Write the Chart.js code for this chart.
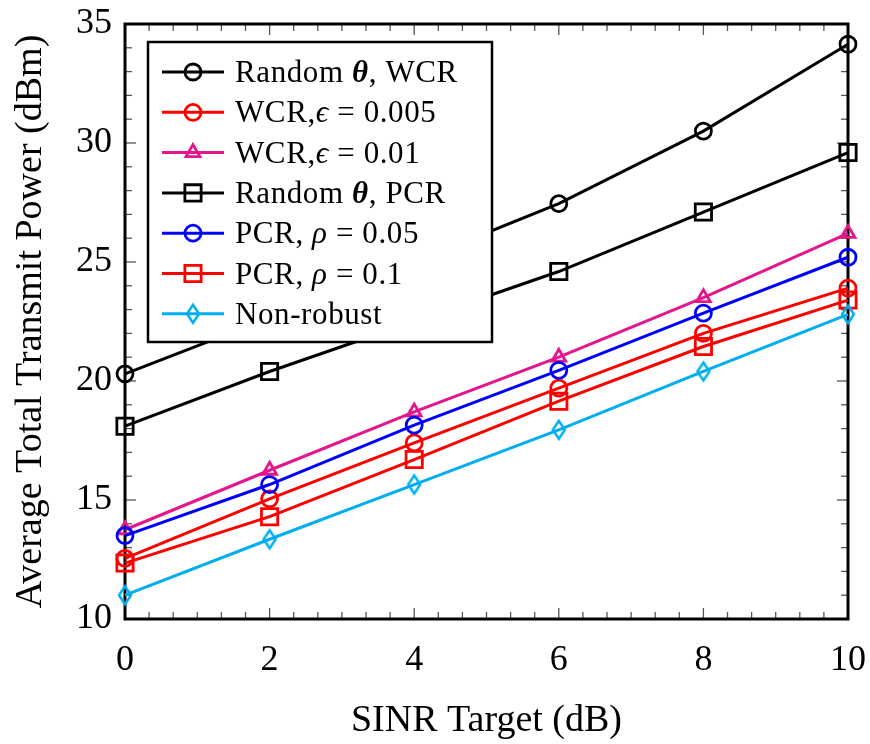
<!DOCTYPE html>
<html>
<head>
<meta charset="utf-8">
<script src="https://cdn.jsdelivr.net/npm/chart.js@4.4.1/dist/chart.umd.min.js"></script>
<style>
html,body{margin:0;background:#fff}
#wrap{width:870px;height:744px}
</style>
</head>
<body>
<div id="wrap"><canvas id="chart" width="870" height="744"></canvas></div>
<script>
// values
const sinr = [0, 2, 4, 6, 8, 10];
const randomWcr = [20.3, 22.65, 25.0, 27.45, 30.5, 34.15];
const wcrEps005 = [12.55, 15.05, 17.4, 19.7, 22.0, 23.9];
const wcrEps01 = [13.75, 16.25, 18.7, 21.0, 23.5, 26.2];
const randomPcr = [18.1, 20.4, 22.5, 24.6, 27.1, 29.6];
const pcrRho005 = [13.5, 15.65, 18.15, 20.45, 22.85, 25.2];
const pcrRho01 = [12.35, 14.3, 16.7, 19.15, 21.45, 23.4];
const nonRobust = [11.0, 13.35, 15.65, 17.95, 20.4, 22.8];
const seriesLabels = ["Random θ, WCR", "WCR,ϵ = 0.005", "WCR,ϵ = 0.01", "Random θ, PCR",
                      "PCR, ρ = 0.05", "PCR, ρ = 0.1", "Non-robust"];
const xTickStep = 2, yTickStep = 5;
const xMinorPerMajor = 6, yMinorPerMajor = 5;

const SERIF = "'Liberation Serif','DejaVu Serif',serif";
const magenta = "#e4168c", cyan = "#00aeef";

function diamond(color){
    const c = document.createElement("canvas");
    c.width = 18; c.height = 24;
    const g = c.getContext("2d");
    g.strokeStyle = color; g.lineWidth = 2.5;
    g.beginPath();
    g.moveTo(9,3); g.lineTo(15,12); g.lineTo(9,21); g.lineTo(3,12);
    g.closePath(); g.stroke();
    return c;
}

function series(i, values, color, style, radius){
    return {
        label: seriesLabels[i],
        data: sinr.map((x,k)=>({x:x, y:values[k]})),
        borderColor: color,
        borderWidth: 3,
        pointStyle: style,
        pointRadius: radius,
        pointBorderWidth: 2.8,
        pointBorderColor: color,
        pointBackgroundColor: "rgba(0,0,0,0)",
        tension: 0,
        clip: false,
        order: -i
    };
}

const datasets = [
    series(0, randomWcr, "#000", "circle", 8),
    series(1, wcrEps005, "#ff0000", "circle", 8),
    series(2, wcrEps01, magenta, "triangle", 8),
    series(3, randomPcr, "#000", "rect", 11.5),
    series(4, pcrRho005, "#0000ff", "circle", 8),
    series(5, pcrRho01, "#ff0000", "rect", 11.5),
    series(6, nonRobust, cyan, diamond(cyan), 8)
];

// inward ticks on all four sides plus the frame
const axisFrame = {
    id: "axisFrame",
    beforeDatasetsDraw(chart){
        const {ctx, chartArea:a, scales} = chart;
        const xs = scales.x, ys = scales.y;
        ctx.save();
        ctx.strokeStyle = "#555";
        ctx.lineWidth = 1.3;
        const line = (x1,y1,x2,y2)=>{ctx.beginPath();ctx.moveTo(x1,y1);ctx.lineTo(x2,y2);ctx.stroke();};
        const nx = (xs.max - xs.min) / xTickStep * xMinorPerMajor;
        for(let k=0; k<=nx; k++){
            const v = xs.min + k * xTickStep / xMinorPerMajor;
            const px = xs.getPixelForValue(v);
            const len = k % xMinorPerMajor === 0 ? 11 : 7;
            line(px, a.bottom, px, a.bottom - len);
            line(px, a.top, px, a.top + len);
        }
        const ny = (ys.max - ys.min) / yTickStep * yMinorPerMajor;
        for(let k=0; k<=ny; k++){
            const v = ys.min + k * yTickStep / yMinorPerMajor;
            const py = ys.getPixelForValue(v);
            const len = k % yMinorPerMajor === 0 ? 11 : 7;
            line(a.left, py, a.left + len, py);
            line(a.right, py, a.right - len, py);
        }
        ctx.strokeStyle = "#000";
        ctx.lineWidth = 3;
        ctx.strokeRect(a.left, a.top, a.right - a.left, a.bottom - a.top);
        ctx.restore();
    }
};

// boxed legend in the upper left of the plot
const boxLegend = {
    id: "boxLegend",
    afterDraw(chart){
        const {ctx, chartArea:a} = chart;
        const L = a.left + 23, T = a.top + 18, W = 344, H = 300;
        ctx.save();
        ctx.fillStyle = "#fff";
        ctx.fillRect(L, T, W, H);
        ctx.lineWidth = 2.5;
        ctx.strokeStyle = "#000";
        ctx.strokeRect(L, T, W, H);
        chart.data.datasets.forEach((ds,i)=>{
            const y = T + 30 + i * 40.3;
            ctx.strokeStyle = ds.borderColor;
            ctx.lineWidth = ds.borderWidth;
            ctx.beginPath(); ctx.moveTo(L+14, y); ctx.lineTo(L+76, y); ctx.stroke();
            ctx.fillStyle = "rgba(0,0,0,0)";
            ctx.lineWidth = ds.pointBorderWidth;
            Chart.helpers.drawPoint(ctx, {pointStyle: ds.pointStyle, radius: ds.pointRadius, borderWidth: ds.pointBorderWidth, rotation: 0}, L+45, y);
            // text, greek letters in italic
            let x = L + 87;
            ctx.fillStyle = "#000";
            ctx.textBaseline = "alphabetic";
            ctx.textAlign = "left";
            for(const ch of ds.label){
                if(ch === "θ") ctx.font = "bold italic 31px " + SERIF;
                else if(ch === "ϵ" || ch === "ρ") ctx.font = "italic 31px " + SERIF;
                else ctx.font = "31px " + SERIF;
                ctx.fillText(ch, x, y + 10);
                x += ctx.measureText(ch).width + 0.6;
            }
        });
        ctx.restore();
    }
};

new Chart(document.getElementById("chart"), {
    type: "line",
    data: {datasets: datasets},
    options: {
        responsive: false,
        animation: false,
        events: [],
        layout: {padding: {left: 0, top: 24, right: 22, bottom: 0}},
        plugins: {legend: {display: false}, tooltip: {enabled: false}},
        scales: {
            x: {
                type: "linear", min: 0, max: 10,
                afterFit(s){ s.height = 125; s.paddingLeft = 0; s.paddingRight = 0; },
                ticks: {stepSize: xTickStep, color: "#000", padding: 20, font: {family: SERIF, size: 36}},
                grid: {display: false, drawTicks: false},
                border: {display: false},
                title: {display: true, text: "SINR Target (dB)", color: "#000", padding: {top: 4, bottom: 0}, font: {family: SERIF, size: 38}}
            },
            y: {
                type: "linear", min: 10, max: 35,
                afterFit(s){ s.width = 125; s.paddingTop = 0; s.paddingBottom = 0; },
                ticks: {stepSize: yTickStep, color: "#000", padding: 13, font: {family: SERIF, size: 36}},
                grid: {display: false, drawTicks: false},
                border: {display: false},
                title: {display: true, text: "Average Total Transmit Power (dBm)", color: "#000", padding: {top: 8, bottom: 4}, font: {family: SERIF, size: 38}}
            }
        }
    },
    plugins: [axisFrame, boxLegend]
});
</script>
</body>
</html>
